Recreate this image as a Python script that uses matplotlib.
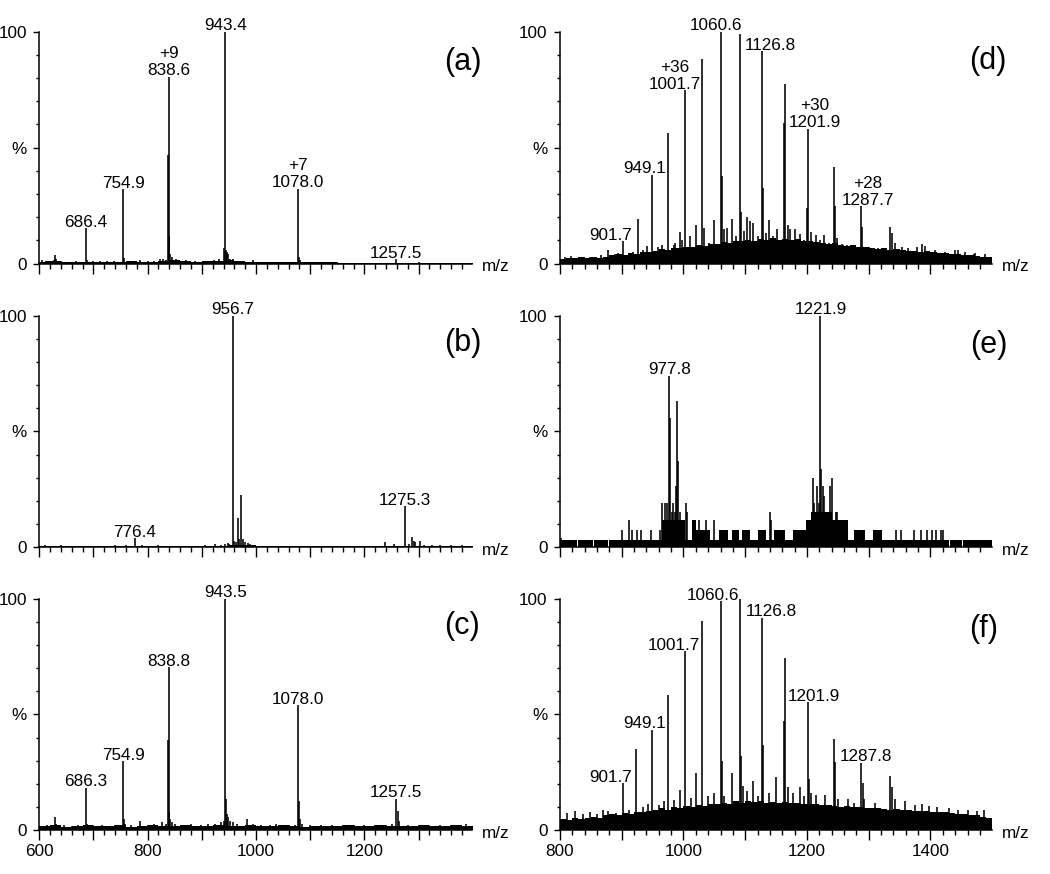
import matplotlib
matplotlib.use('Agg')
import matplotlib.pyplot as plt
from matplotlib.ticker import FixedLocator, MultipleLocator, FuncFormatter

plt.rcParams['font.family'] = ['Liberation Sans', 'DejaVu Sans']

# ---------------- data ----------------
# panel (a)
a_peaks = [(605, 1.5), (612, 1.2), (620, 1.0), (627, 1.5), (629, 3.6), (631, 2.0), (640, 1.0), (655, 0.8),
           (668, 1.0), (686.4, 15.1), (688, 1.5), (700, 1.0), (712, 1.0), (725, 1.0), (738, 1.2), (754.9, 32.0),
           (756.5, 2.5), (768, 1.2), (785, 1.5), (800, 1.0), (812, 1.2), (822, 2.0), (828, 2.0), (833, 1.5),
           (837.6, 46.6), (838.6, 80.6), (839.8, 12.0), (841, 4.0), (845, 3.0), (852, 2.0), (870, 1.5), (887, 1.2),
           (905, 1.0), (922, 1.5), (932, 2.0), (941.5, 6.5), (943.4, 100), (944.6, 6.0), (946, 5.0), (948, 4.0),
           (952, 2.0), (958, 1.8), (975, 1.2), (995, 1.5), (1020, 0.8), (1050, 0.8), (1078.0, 32.3), (1079.6, 3.0),
           (1082, 1.5), (1100, 0.8), (1150, 0.6), (1257.5, 2.0), (1300, 0.5)]
a_noise_mz = [600, 610, 625, 640, 660, 680, 700, 720, 740, 760, 780, 800, 820, 840, 860, 880, 900, 920, 940,
              960, 980, 1000, 1020, 1050, 1080, 1100, 1150, 1200, 1250, 1300, 1350, 1400]
a_noise_h = [0.8, 1.2, 0.9, 0.7, 0.6, 0.8, 0.5, 0.6, 0.7, 0.9, 0.6, 0.8, 1.1, 1.4, 1.0, 0.8, 0.9, 1.0, 1.5,
             1.0, 0.7, 0.6, 0.5, 0.5, 0.8, 0.5, 0.4, 0.4, 0.4, 0.4, 0.4, 0.4]
a_labels = ['686.4', '754.9', '+9\n838.6', '943.4', '+7\n1078.0', '1257.5']
a_label_peaks = [686.4, 754.9, 838.6, 943.4, 1078.0, 1257.5]

# panel (b)
b_peaks = [(610, 1.0), (625, 0.8), (640, 1.0), (655, 0.8), (680, 0.8), (700, 0.8), (720, 0.8), (740, 1.0),
           (760, 1.0), (776.4, 4.0), (790, 1.0), (820, 1.0), (850, 0.8), (880, 0.8), (905, 1.2), (925, 1.5),
           (935, 1.0), (943, 1.5), (948, 2.0), (951, 1.5), (956.7, 100), (960, 3.0), (963, 2.5), (966.5, 12.9),
           (968.5, 3.5), (971.5, 22.5), (976, 3.5), (980, 2.5), (986, 2.0), (989, 1.5), (1000, 0.8), (1050, 0.8),
           (1100, 0.8), (1150, 0.8), (1200, 0.8), (1238, 2.5), (1255, 1.5), (1275.3, 17.9), (1282, 1.5),
           (1288, 4.5), (1291, 3.0), (1294, 2.5), (1302, 3.0), (1310, 1.2), (1325, 1.0), (1340, 1.2), (1360, 1.0),
           (1380, 1.2)]
b_noise_mz = [600, 650, 700, 750, 800, 850, 900, 950, 1000, 1050, 1100, 1150, 1200, 1250, 1300, 1350, 1400]
b_noise_h = [0.7, 0.6, 0.7, 0.6, 0.8, 0.6, 0.7, 0.9, 0.6, 0.6, 0.6, 0.6, 0.7, 0.8, 0.7, 0.6, 0.6]
b_labels = ['776.4', '956.7', '1275.3']
b_label_peaks = [776.4, 956.7, 1275.3]

# panel (c)
c_peaks = [(603, 1.5), (615, 2.5), (622, 2.0), (629, 5.8), (631, 3.0), (645, 2.5), (660, 2.0), (672, 2.5),
           (686.3, 18.5), (688, 3.0), (700, 2.5), (715, 2.5), (730, 2.0), (740, 2.5), (754.9, 29.9), (756.5, 5.0),
           (758, 3.0), (770, 2.5), (786.7, 4.0), (800, 2.5), (812, 3.0), (826.6, 3.5), (834, 3.0), (837.8, 39.0),
           (838.8, 70.4), (840, 8.0), (842, 5.0), (845, 3.5), (850, 3.0), (862, 2.5), (880, 3.0), (898, 2.5),
           (912, 3.0), (925, 3.0), (935, 3.5), (941, 4.0), (943.5, 100), (945, 13.7), (946.5, 7.0), (948, 6.0),
           (952, 4.0), (958, 3.5), (965, 3.0), (984, 5.0), (995, 3.0), (1010, 2.5), (1025, 2.5), (1036.5, 3.0),
           (1060, 2.5), (1072, 2.5), (1078.0, 54.1), (1080, 12.7), (1082, 5.0), (1085, 3.0), (1100, 2.5),
           (1120, 2.5), (1140, 2.5), (1160, 2.5), (1180, 2.5), (1200, 2.5), (1220, 2.5), (1240, 2.5), (1250, 3.0),
           (1257.5, 13.7), (1261.5, 8.4), (1264, 4.0), (1280, 2.5), (1300, 2.5), (1320, 2.5), (1340, 2.5),
           (1360, 2.5), (1375, 2.5), (1388, 3.0)]
c_noise_mz = [600, 620, 640, 660, 680, 700, 720, 740, 760, 780, 800, 820, 840, 860, 880, 900, 920, 940, 960,
              980, 1000, 1020, 1040, 1060, 1080, 1100, 1120, 1140, 1160, 1180, 1200, 1220, 1240, 1260, 1280, 1300,
              1320, 1340, 1360, 1380, 1400]
c_noise_h = [1.8, 2.2, 1.6, 2.0, 2.4, 1.8, 2.0, 2.2, 1.7, 2.1, 2.3, 1.9, 2.0, 2.4, 2.0, 1.8, 2.2, 2.0, 1.9,
             2.3, 2.1, 1.8, 2.2, 2.0, 1.7, 2.1, 2.0, 1.9, 2.2, 1.8, 2.0, 2.3, 2.0, 1.8, 2.1, 2.2, 1.9, 2.0,
             2.3, 1.8, 2.0]
c_labels = ['686.3', '754.9', '838.8', '943.5', '1078.0', '1257.5']
c_label_peaks = [686.3, 754.9, 838.8, 943.5, 1078.0, 1257.5]

# panel (d)
d_peaks = [(808, 3.0), (818, 3.2), (848, 3.0), (867, 3.8), (878, 5.8), (889, 4.0), (894, 4.5), (902.7, 9.7),
           (918, 5.0), (926, 19.1), (935, 6.0), (940.5, 7.5), (949.2, 38.3), (959, 7.0), (962, 6.0), (965, 8.0),
           (975.7, 56.1), (985, 8.0), (986, 9.0), (994, 13.7), (997, 10.0), (1003.2, 74.7), (1010, 11.8),
           (1021, 16.6), (1030.3, 88.0), (1034, 15.5), (1042, 9.0), (1049, 18.8), (1060.6, 100), (1062.2, 37.9),
           (1066, 15.0), (1071, 15.2), (1079, 19.0), (1085, 12.0), (1091.9, 98.8), (1093.5, 22.0), (1098, 14.0),
           (1103, 20.0), (1107, 18.4), (1113, 17.3), (1120, 12.0), (1127, 91.6), (1128.6, 32.5), (1133, 13.0),
           (1138, 18.8), (1145, 12.0), (1151, 15.0), (1162.7, 60.5), (1164.3, 77.2), (1170, 16.8), (1173, 15.0),
           (1181, 14.7), (1189, 12.6), (1195, 10.0), (1200.6, 24.0), (1202.2, 58.2), (1206, 13.5), (1214, 12.2),
           (1221, 10.0), (1228, 12.2), (1236, 9.0), (1243.8, 41.8), (1245.4, 24.6), (1249, 11.0), (1257, 8.5),
           (1265, 8.0), (1275, 7.5), (1288.1, 24.6), (1289.7, 15.8), (1300, 7.0), (1315, 6.8), (1327, 6.5),
           (1334, 15.8), (1337.7, 13.3), (1343, 9.0), (1354, 7.0), (1364, 6.5), (1378, 7.0), (1386.5, 8.2),
           (1391, 7.5), (1400, 5.0), (1407, 6.0), (1423, 5.0), (1440, 6.0), (1445, 5.8), (1456, 5.0),
           (1470, 4.0), (1472, 4.5), (1489, 4.0)]
d_noise_mz = [800, 810, 820, 830, 840, 850, 860, 870, 880, 890, 900, 910, 920, 930, 940, 950, 960, 970, 980,
              990, 1000, 1010, 1020, 1030, 1040, 1050, 1060, 1070, 1080, 1090, 1100, 1110, 1120, 1130, 1140,
              1150, 1160, 1170, 1180, 1190, 1200, 1210, 1220, 1230, 1240, 1250, 1260, 1270, 1280, 1290, 1300,
              1310, 1320, 1330, 1340, 1350, 1360, 1370, 1380, 1390, 1400, 1410, 1420, 1430, 1440, 1450, 1460,
              1470, 1480, 1490, 1500]
d_noise_h = [2.0, 2.5, 2.2, 2.8, 2.3, 2.6, 2.4, 3.0,
             3.5, 4.0, 3.6, 4.5, 4.2, 5.0, 4.8,
             5.5, 6.2, 5.8, 6.8, 6.5, 7.2, 7.0, 7.8, 7.5, 8.2,
             8.5, 9.2, 8.8, 9.8, 9.5, 10.2, 9.8, 10.5, 10.0, 10.8,
             10.2, 10.6, 10.0, 10.4, 9.6, 9.9, 9.2, 9.0, 8.5, 8.8,
             8.0, 7.6, 7.8, 7.2, 7.0, 6.8, 6.4, 6.6, 6.0, 6.2,
             5.8, 5.5, 5.6, 5.0, 5.4, 4.8, 4.5, 4.6, 4.2, 4.0,
             3.8, 3.5, 3.2, 3.0, 2.8, 2.6]
d_labels = ['901.7', '949.1', '+36\n1001.7', '1060.6', '1126.8', '+30\n1201.9', '+28\n1287.7']
d_label_peaks = [902.7, 949.2, 1003.2, 1060.6, 1127, 1202.2, 1288.1]

# panel (e)
e_peaks = [(801, 4.0), (901, 7.6), (911.9, 11.9), (917.3, 7.6), (924.3, 7.6), (931.9, 7.6), (947.6, 7.6),
           (962.2, 7.6), (966, 19.0), (969.3, 19.0), (973.1, 19.0), (976.6, 74.0), (978.2, 55.9), (981, 15.3),
           (983.5, 19.0), (986.3, 15.3), (988, 26.5), (990.2, 63.3), (991.3, 37.2), (994.5, 15.3), (997, 11.9),
           (1004.3, 19.0), (1006.5, 15.3), (1025, 11.9), (1030, 7.6), (1037, 11.9), (1050, 11.9), (1060, 7.6),
           (1066, 7.6), (1082, 7.6), (1086, 7.6), (1097, 7.6), (1103, 7.6), (1124, 7.6), (1130, 7.6),
           (1139.5, 15.3), (1141.7, 11.9), (1150, 7.6), (1155, 7.6), (1160, 7.6), (1180, 7.6), (1185, 7.6),
           (1192, 7.6), (1200, 11.9), (1203, 11.9), (1209.3, 29.8), (1212, 19.0), (1216.4, 26.5), (1219, 19.0),
           (1221.8, 100), (1223.4, 34.0), (1226.1, 26.5), (1228.3, 22.2), (1232, 15.3), (1237, 26.5),
           (1240.8, 29.8), (1246.2, 15.3), (1248.9, 15.3), (1254, 11.9), (1258, 11.9), (1261.4, 11.9),
           (1263.5, 11.9), (1280, 7.6), (1285, 7.6), (1290, 7.6), (1310, 7.6), (1316, 7.6), (1343.8, 7.6),
           (1351.9, 7.6), (1373.5, 7.6), (1384.3, 7.6), (1395.1, 7.6), (1403.2, 7.6), (1409.7, 7.6),
           (1416.7, 7.6), (1420.5, 7.6)]
e_noise_mz = [800, 828.2, 829.4, 853.5, 854.7, 877.5, 878.7, 966, 1002, 1013, 1020, 1043, 1058, 1072, 1079,
              1090, 1094, 1107, 1121, 1134, 1146, 1165, 1177, 1198, 1206, 1240, 1266, 1276, 1294, 1307, 1321,
              1430.5, 1431.7, 1451, 1452.2, 1500]
e_noise_h = [3.3, 0.0, 3.3, 0.0, 3.3, 0.0, 3.3, 11.9, 3.3, 11.9, 7.6, 3.3, 7.6, 3.3, 7.6,
             3.3, 7.6, 3.3, 7.6, 3.3, 7.6, 3.3, 7.6, 11.9, 15.3, 11.9, 3.3, 7.6, 3.3, 7.6, 3.3,
             0.0, 3.3, 0.0, 3.3, 3.3]
e_labels = ['977.8', '1221.9']
e_label_peaks = [976.6, 1221.8]

# panel (f)
f_peaks = [(812, 7.5), (825, 8.5), (838, 7.0), (848, 8.0), (860, 7.0), (870, 9.0), (878, 8.5), (890, 7.5),
           (902.7, 20.5), (912, 9.0), (923.8, 35.0), (935, 10.0), (943, 11.5), (949.2, 43.4), (960, 11.0),
           (968, 12.5), (975.7, 58.4), (985, 13.0), (994, 17.6), (1003.2, 77.2), (1012, 14.0), (1021, 24.6),
           (1030.3, 90.2), (1040, 15.0), (1050, 16.0), (1060.6, 98.8), (1062.2, 30.0), (1066, 14.7), (1079, 24.6),
           (1091.9, 100), (1093.5, 32.0), (1097, 19.0), (1103, 17.0), (1113, 21.5), (1120, 15.0), (1127, 91.8),
           (1128.6, 36.7), (1138, 16.0), (1150, 23.1), (1162.7, 47.3), (1164.3, 74.4), (1170, 18.8), (1178, 16.0),
           (1188, 18.8), (1195, 15.0), (1202.2, 55.2), (1204, 22.0), (1206, 16.0), (1214, 15.5), (1229, 15.5),
           (1243.8, 39.3), (1245.4, 29.5), (1250, 13.5), (1266, 13.5), (1276, 12.0), (1288.1, 29.2),
           (1290.5, 20.5), (1293, 13.5), (1310, 12.0), (1334, 23.4), (1337, 18.8), (1342, 13.5), (1359, 12.5),
           (1375, 11.0), (1387, 11.5), (1398, 10.5), (1410, 10.0), (1430, 9.5), (1445, 9.0), (1460, 9.0),
           (1475, 8.5), (1487, 8.8)]
f_noise_mz = d_noise_mz
f_noise_h = [5.0, 4.5, 5.5, 4.8, 5.2, 6.0, 5.5, 6.5,
             7.0, 6.5, 7.5, 7.2, 8.0, 7.8, 8.5,
             8.8, 9.5, 9.0, 10.0, 9.6, 10.5, 10.0, 11.0, 10.6, 11.2,
             11.5, 12.0, 11.6, 12.5, 12.0, 12.8, 12.2, 12.6, 12.0, 12.4,
             12.0, 12.3, 11.8, 12.0, 11.5, 11.2, 11.6, 11.0, 10.8, 10.5,
             10.2, 10.6, 10.0, 10.3, 9.8, 9.5, 9.8, 9.2, 9.0, 9.4,
             8.8, 9.0, 8.5, 8.2, 8.6, 8.0, 7.8, 8.0, 7.5, 7.2,
             7.0, 6.8, 6.5, 6.0, 5.5, 5.0]
f_labels = ['901.7', '949.1', '1001.7', '1060.6', '1126.8', '1201.9', '1287.8']
f_label_peaks = [902.7, 949.2, 1003.2, 1060.6, 1127, 1202.2, 1288.1]

y_tick_values = [0, 50, 100]
y_tick_labels = ['0', '%', '100']

# ---------------- style / layout ----------------
FS = 12.3
LEFT_X = (0.0374, 0.4124)
RIGHT_X = (0.5333, 0.4114)
ROW_BOTTOM = [0.6985, 0.3736, 0.0498]
AX_H = 0.2654

# label horizontal offsets (m/z units) for each panel
a_dx = [0, 0, 0, 0, 0, 0]
b_dx = [0, 0, 0]
c_dx = [0, 0, 0, 0, 0, 0]
d_dx = [-20, -12.5, -17, -8, 14, 11, 11]
e_dx = [1.5, 0]
f_dx = [-20, -12.5, -19, -12, 16, 9, 7]

fig = plt.figure(figsize=(10.5, 8.74), dpi=100)


def draw_panel(pos, peaks, noise_mz, noise_h, labels, label_peaks, label_dx, xlim, majors, letter,
               letter_pos, show_xlabels):
    ax = fig.add_axes(pos)
    mz = [p[0] for p in peaks]
    inten = [p[1] for p in peaks]
    ax.fill_between(noise_mz, 0, noise_h, step='post', color='black', lw=0, zorder=2)
    ax.vlines(mz, 0, inten, color='black', lw=1.15, zorder=3)
    for txt, pk, dx in zip(labels, label_peaks, label_dx):
        h = max(i for m, i in peaks if abs(m - pk) < 1.0)
        ax.annotate(txt, xy=(pk + dx, h), xytext=(0, -1.2), textcoords='offset points',
                    ha='center', va='bottom', fontsize=FS, multialignment='center',
                    linespacing=1.15, annotation_clip=False)
    ax.set_xlim(*xlim)
    ax.set_ylim(0, 100)
    for s in ['top', 'right']:
        ax.spines[s].set_visible(False)
    for s in ['left', 'bottom']:
        ax.spines[s].set_linewidth(1.1)
        ax.spines[s].set_zorder(4)
    ax.xaxis.set_major_locator(FixedLocator(majors))
    ax.xaxis.set_minor_locator(MultipleLocator(20))
    ax.xaxis.set_major_formatter(FuncFormatter(lambda v, p: f'{int(v)}' if int(v) % 200 == 0 else ''))
    ax.yaxis.set_major_locator(FixedLocator(y_tick_values))
    ax.set_yticklabels(y_tick_labels)
    ax.yaxis.set_minor_locator(MultipleLocator(10))
    ax.tick_params(axis='x', which='major', direction='out', length=7, width=1.0, labelsize=FS, pad=3,
                   labelbottom=show_xlabels)
    ax.tick_params(axis='x', which='minor', direction='out', length=3.5, width=1.0)
    ax.tick_params(axis='y', which='major', direction='out', length=4, width=1.0, labelsize=FS, pad=5)
    ax.tick_params(axis='y', which='minor', direction='out', length=2.5, width=1.0)
    ax.annotate('m/z', xy=(1, 0), xycoords='axes fraction', xytext=(7, -2), textcoords='offset points',
                ha='left', va='center', fontsize=FS)
    ax.text(letter_pos[0], letter_pos[1], letter, transform=ax.transAxes, fontsize=22,
            ha='center', va='center')
    return ax


left_majors = [600, 700, 800, 900, 1000, 1100, 1200, 1300]
right_majors = [800, 900, 1000, 1100, 1200, 1300, 1400]
left_lim = (600, 1399)
right_lim = (800, 1499.5)

draw_panel([LEFT_X[0], ROW_BOTTOM[0], LEFT_X[1], AX_H], a_peaks, a_noise_mz, a_noise_h, a_labels,
           a_label_peaks, a_dx, left_lim, left_majors, '(a)', (0.978, 0.87), False)
draw_panel([LEFT_X[0], ROW_BOTTOM[1], LEFT_X[1], AX_H], b_peaks, b_noise_mz, b_noise_h, b_labels,
           b_label_peaks, b_dx, left_lim, left_majors, '(b)', (0.978, 0.88), False)
draw_panel([LEFT_X[0], ROW_BOTTOM[2], LEFT_X[1], AX_H], c_peaks, c_noise_mz, c_noise_h, c_labels,
           c_label_peaks, c_dx, left_lim, left_majors, '(c)', (0.977, 0.88), True)
draw_panel([RIGHT_X[0], ROW_BOTTOM[0], RIGHT_X[1], AX_H], d_peaks, d_noise_mz, d_noise_h, d_labels,
           d_label_peaks, d_dx, right_lim, right_majors, '(d)', (0.99, 0.875), False)
draw_panel([RIGHT_X[0], ROW_BOTTOM[1], RIGHT_X[1], AX_H], e_peaks, e_noise_mz, e_noise_h, e_labels,
           e_label_peaks, e_dx, right_lim, right_majors, '(e)', (0.993, 0.875), False)
draw_panel([RIGHT_X[0], ROW_BOTTOM[2], RIGHT_X[1], AX_H], f_peaks, f_noise_mz, f_noise_h, f_labels,
           f_label_peaks, f_dx, right_lim, right_majors, '(f)', (0.98, 0.87), True)

fig.savefig('out.png', dpi=100, facecolor='white')
